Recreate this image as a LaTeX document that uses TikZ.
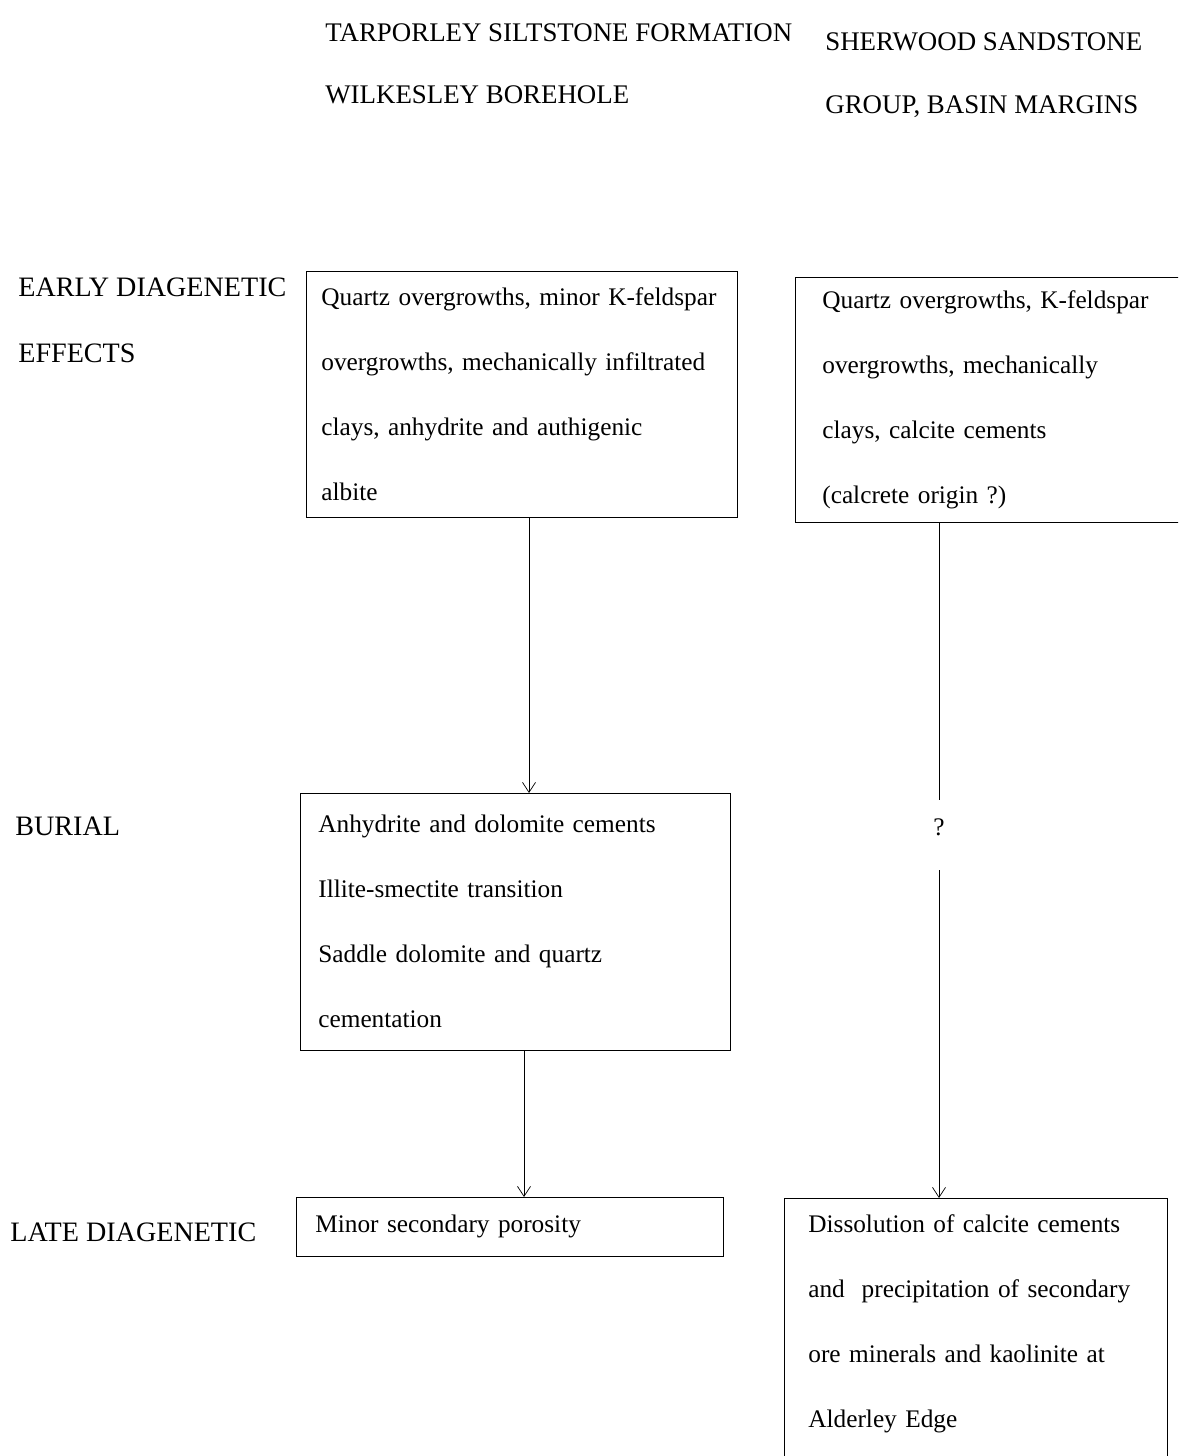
\documentclass[tikz,border=0pt]{standalone}
\usepackage{fontspec}
\setmainfont{Liberation Serif}
\usetikzlibrary{arrows.meta,positioning,calc}

\begin{document}
\begin{tikzpicture}[x=0.02cm, y=-0.02cm,
    every node/.style={font=\fontsize{14.4}{37}\selectfont},
    box/.style={draw, thin, anchor=north west, align=left, inner ysep=0pt,
      execute at begin node={\hyphenpenalty=10000\relax}},
    lbl/.style={anchor=west, inner sep=0pt, font=\fontsize{16}{19}\selectfont},
    head/.style={lbl, font=\fontsize{15.3}{19}\selectfont},
    arr/.style={-{Straight Barb[length=2mm, width=2.6mm]}, thin}
  ]
    \clip (0,0) rectangle (1178,1456);

    % Column headings
    \node[head] (hl1) at (325,33)  {TARPORLEY SILTSTONE FORMATION};
    \node[head] (hl2) at (325,95)  {WILKESLEY BOREHOLE};
    \node[head] (hr1) at (825,42)  {SHERWOOD SANDSTONE};
    \node[head] (hr2) at (825,107) {GROUP, BASIN MARGINS};

    % Stage labels
    \node[lbl] (early)  at (18,287)  {EARLY DIAGENETIC};
    \node[lbl] (effect) at (18,353)  {EFFECTS};
    \node[lbl] (burial) at (15,826)  {BURIAL};
    \node[lbl] (late)   at (10,1232) {LATE DIAGENETIC};

    % Boxes, left column
    \node[box, inner xsep=0.3cm, text width=8.02cm, minimum height=4.92cm] (A) at (306,271)
      {Quartz overgrowths, minor K-feldspar\\overgrowths, mechanically infiltrated\\clays, anhydrite and authigenic\\albite};
    \node[box, inner xsep=0.36cm, text width=7.88cm, minimum height=5.14cm] (C) at (300,793)
      {Anhydrite and dolomite cements\\Illite-smectite transition\\Saddle dolomite and quartz\\cementation};
    \node[box, inner xsep=0.38cm, text width=7.78cm, minimum height=1.18cm] (D) at (296,1197)
      {Minor secondary porosity};

    % Boxes, right column
    \node[box, inner xsep=0.54cm, text width=7.22cm, minimum height=4.9cm] (B) at (795,277)
      {Quartz overgrowths, K-feldspar\\overgrowths, mechanically\\clays, calcite cements\\(calcrete origin ?)};
    \node[box, inner xsep=0.48cm, inner ysep=0.32cm, text width=6.7cm, text depth=6cm] (E) at (784,1198)
      {Dissolution of calcite cements\\and\ \ precipitation of secondary\\ore minerals and kaolinite at\\Alderley Edge};

    % Connectors
    \coordinate (ac) at (529,0);
    \coordinate (cd) at (524,0);
    \node[inner sep=0pt] (q) at (939,827) {?};

    \draw[arr] (A.south -| ac) -- (C.north -| ac);
    \draw[arr] (C.south -| cd) -- (D.north -| cd);
    \draw ($(B.south -| q)$) -- ($(q.center)+(0,-27)$);
    \draw[arr] ($(q.center)+(0,43)$) -- (E.north -| q);

  \end{tikzpicture}
\end{document}
